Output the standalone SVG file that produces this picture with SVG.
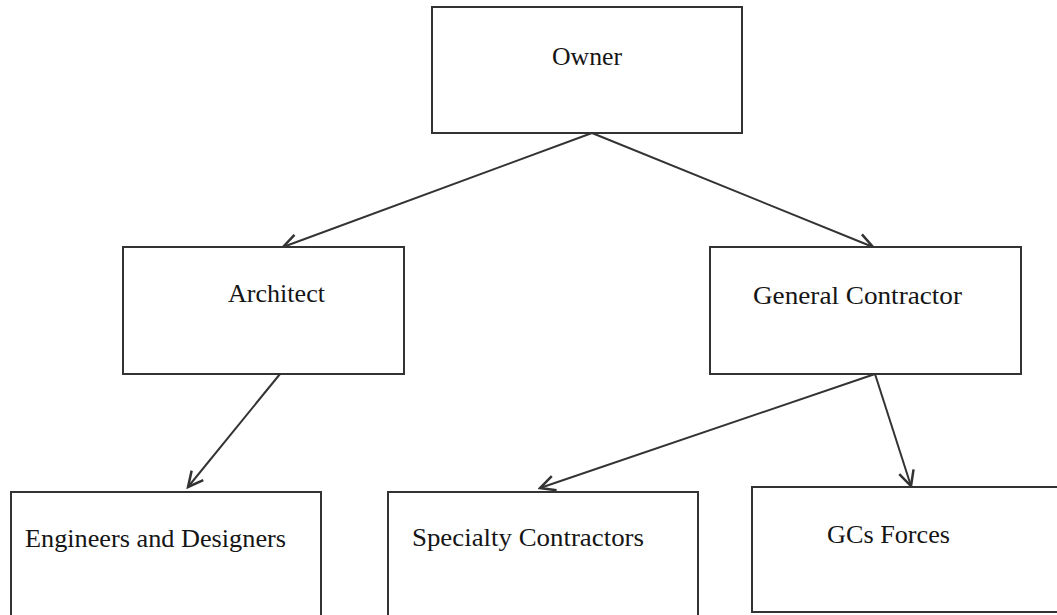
<svg xmlns="http://www.w3.org/2000/svg" width="1057" height="615" viewBox="0 0 1057 615">
  <style>
    .box { fill: #ffffff; stroke: #333333; stroke-width: 2; }
    .label { font-family: "Liberation Serif", "Times New Roman", serif; font-size: 25px; fill: #151515; }
    .link { fill: none; stroke: #333333; stroke-width: 2; marker-end: url(#arrow); }
  </style>
  <defs>
    <marker id="arrow" markerUnits="userSpaceOnUse" markerWidth="20" markerHeight="20" viewBox="-14 -8 16 16" refX="0" refY="0" orient="auto">
      <path d="M -12 -6 L 0 0 L -12 6" fill="none" stroke="#333333" stroke-width="2" stroke-linejoin="miter"/>
    </marker>
  </defs>
  <rect width="1057" height="615" fill="#ffffff"/>

  <g id="connectors">
    <line class="link" x1="592" y1="133" x2="283" y2="247"/>
    <line class="link" x1="592" y1="133" x2="873" y2="247"/>
    <line class="link" x1="280" y1="374" x2="188" y2="487"/>
    <line class="link" x1="875" y1="374" x2="540" y2="488"/>
    <line class="link" x1="875" y1="374" x2="911" y2="486"/>
  </g>

  <g id="owner">
    <rect class="box" x="432" y="7" width="310" height="126"/>
    <text class="label" x="552" y="65" textLength="70" lengthAdjust="spacingAndGlyphs">Owner</text>
  </g>

  <g id="architect">
    <rect class="box" x="123" y="247" width="281" height="127"/>
    <text class="label" x="228" y="302" textLength="97" lengthAdjust="spacingAndGlyphs">Architect</text>
  </g>

  <g id="general-contractor">
    <rect class="box" x="710" y="247" width="311" height="127"/>
    <text class="label" x="753" y="304" textLength="209" lengthAdjust="spacingAndGlyphs">General Contractor</text>
  </g>

  <g id="engineers-designers">
    <rect class="box" x="11" y="492" width="310" height="130"/>
    <text class="label" x="25" y="547" textLength="261" lengthAdjust="spacingAndGlyphs">Engineers and Designers</text>
  </g>

  <g id="specialty-contractors">
    <rect class="box" x="388" y="492" width="310" height="130"/>
    <text class="label" x="412" y="546" textLength="232" lengthAdjust="spacingAndGlyphs">Specialty Contractors</text>
  </g>

  <g id="gcs-forces">
    <rect class="box" x="752" y="487" width="310" height="125"/>
    <text class="label" x="827" y="543" textLength="123" lengthAdjust="spacingAndGlyphs">GCs Forces</text>
  </g>
</svg>
